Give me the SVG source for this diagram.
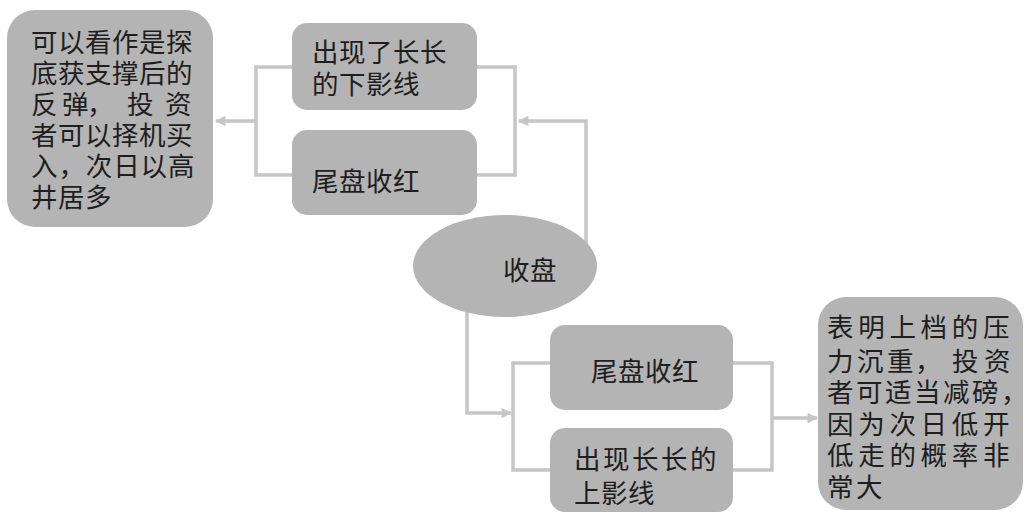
<svg xmlns="http://www.w3.org/2000/svg" width="1030" height="517" viewBox="0 0 1030 517">
<style>
.box{fill:#b4b4b4}
.t{font-family:"Liberation Sans","Noto Sans CJK SC","Noto Sans CJK JP",sans-serif;font-size:26.5px;fill:#1e1e1e}
.c{fill:none;stroke:#c6c6c6;stroke-width:3.5}
</style>
<defs>
<marker id="ah" viewBox="0 0 10 10" refX="9" refY="5" markerWidth="3.4" markerHeight="3" orient="auto" markerUnits="strokeWidth">
<path d="M0,0 L10,5 L0,10 z" fill="#c6c6c6"/>
</marker>
</defs>
<rect width="1030" height="517" fill="#ffffff"/>
<g id="connectors">
<polyline class="c" points="292,67 256,67 256,175 292,175"/>
<line class="c" x1="256" y1="121" x2="216" y2="121" marker-end="url(#ah)"/>
<polyline class="c" points="477,67 515,67 515,175 477,175"/>
<polyline class="c" points="586,250 586,121 519,121" marker-end="url(#ah)"/>
<polyline class="c" points="467,300 467,413 511,413" marker-end="url(#ah)"/>
<polyline class="c" points="550,363 513,363 513,470 550,470"/>
<polyline class="c" points="733,363 772,363 772,470 733,470"/>
<line class="c" x1="772" y1="418" x2="817" y2="418" marker-end="url(#ah)"/>
</g>
<g id="n-left">
<rect class="box" x="7" y="10" width="206" height="217" rx="28"/>
<text class="t"><tspan x="31" y="52" letter-spacing="0.5">可以看作是探</tspan><tspan x="31" y="83" letter-spacing="0.5">底获支撑后的</tspan><tspan x="31 62 87 127 165" y="114">反弹，投资</tspan><tspan x="31" y="145" letter-spacing="0.5">者可以择机买</tspan><tspan x="31" y="176" letter-spacing="0.9">入，次日以高</tspan><tspan x="31" y="207" letter-spacing="0.5">井居多</tspan></text>
</g>
<g id="n-top1">
<rect class="box" x="292" y="23" width="185" height="87" rx="15"/>
<text class="t"><tspan x="312" y="62" letter-spacing="0.5">出现了长长</tspan><tspan x="312" y="94" letter-spacing="0.5">的下影线</tspan></text>
</g>
<g id="n-top2">
<rect class="box" x="292" y="130" width="185" height="85" rx="15"/>
<text class="t" x="312" y="191" letter-spacing="0.5">尾盘收红</text>
</g>
<g id="n-center">
<ellipse class="box" cx="505" cy="266" rx="92" ry="51"/>
<text class="t" x="503" y="280" letter-spacing="0.5">收盘</text>
</g>
<g id="n-bot1">
<rect class="box" x="550" y="325" width="183" height="85" rx="15"/>
<text class="t" x="591" y="381" letter-spacing="0.5">尾盘收红</text>
</g>
<g id="n-bot2">
<rect class="box" x="550" y="428" width="183" height="84" rx="15"/>
<text class="t"><tspan x="574" y="469" letter-spacing="2.5">出现长长的</tspan><tspan x="574" y="503" letter-spacing="0.5">上影线</tspan></text>
</g>
<g id="n-right">
<rect class="box" x="818" y="297" width="205" height="213" rx="28"/>
<text class="t"><tspan x="827" y="337" letter-spacing="4.7">表明上档的压</tspan><tspan x="827 857 887 915 952 984" y="371">力沉重，投资</tspan><tspan x="827" y="402" letter-spacing="2.5">者可适当减磅，</tspan><tspan x="827" y="434" letter-spacing="4.7">因为次日低开</tspan><tspan x="827" y="465" letter-spacing="4.7">低走的概率非</tspan><tspan x="827" y="497" letter-spacing="2.5">常大</tspan></text>
</g>
</svg>
